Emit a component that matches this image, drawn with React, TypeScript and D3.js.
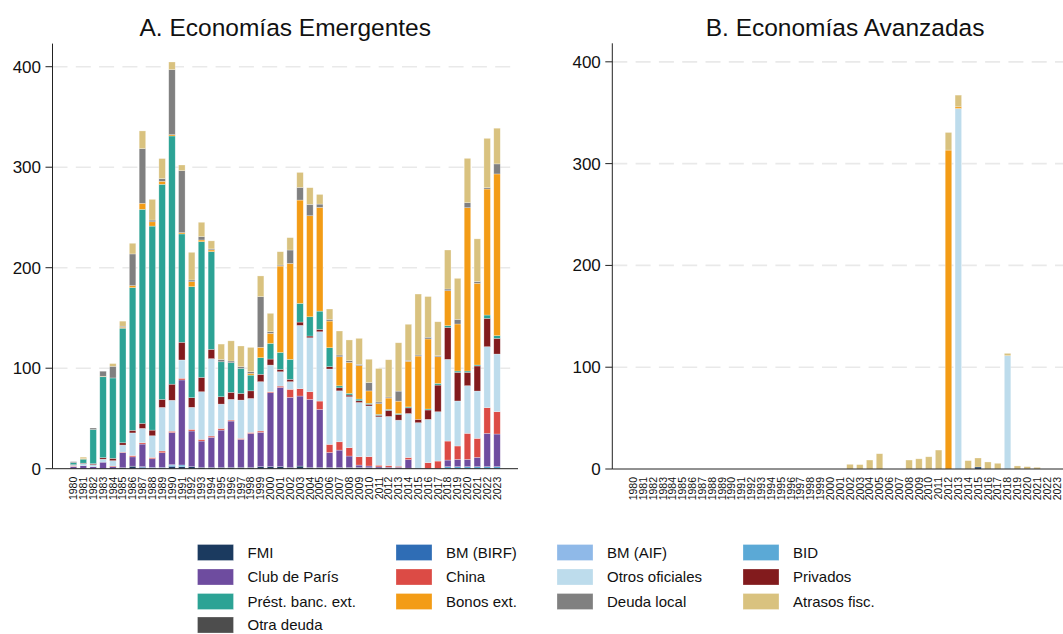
import React from "react";
import * as d3 from "d3";

// Years on the horizontal axis
const years: number[] = d3.range(1980, 2024);
const yTicks = [0, 100, 200, 300, 400];

// ---- Panel A: Economías Emergentes (one value per year, 1980–2023) ----
const emFMI = [0, 0, 0, 0, 0, 1, 2.5, 1, 0.5, 0.5, 2, 2, 2, 1.3, 1.3, 1.3, 1.3, 1.3, 1.3, 2, 2, 2, 1.3, 2.6, 1.3, 1.3, 1.3, 1.3, 1.3, 1.3, 1, 0.5, 0.5, 0.5, 0.5, 0, 0, 0, 0, 0, 0, 0, 0, 0];
const emBIRF = [0, 0, 0, 0, 0, 0, 0, 1, 0.8, 0.8, 1, 0, 0, 0, 0, 0, 0, 0, 0, 0, 0, 0, 0, 0, 0, 0, 0, 0, 0, 0, 0, 0, 0, 0, 0, 0, 0, 0, 0, 0, 0, 0, 0, 0];
const emAIF = [0, 0, 0, 0, 0, 0, 0, 0, 0, 0, 0, 0, 0, 0, 0, 0, 0, 0, 0, 0, 0, 0, 0, 0, 0, 0, 0, 0, 0, 0, 0, 0, 0, 0, 0, 0, 0, 0, 0, 0, 0, 0, 0, 0];
const emBID = [0, 0, 0, 0, 0, 0, 0, 0, 0, 0, 1, 1.7, 0, 0, 0, 0, 0, 0, 0, 0, 0, 0, 0, 0, 0, 0, 0, 0, 0, 0, 0, 0, 0, 0, 0, 0, 0, 0, 2, 2, 2, 2, 2, 2];
const emClubParis = [2, 3, 2, 6.5, 2, 15, 9.3, 22.5, 8.6, 14.6, 32, 84.6, 35.5, 26.2, 29.9, 37.1, 46.1, 27.9, 33.8, 34.2, 73.6, 78.9, 69.7, 69.7, 67.7, 57.7, 14.9, 17.2, 11.3, 2.3, 1.7, 1.3, 1, 1, 8.6, 0, 0, 0, 6.6, 7.3, 7.3, 9.3, 33.2, 32.5];
const emChina = [0.5, 0, 0, 0, 0.7, 0.5, 1.3, 1.3, 1.3, 1.7, 1.3, 1.7, 1.7, 1.7, 1.3, 1.7, 1, 1, 1, 1.3, 1, 1.3, 8, 7.3, 7.6, 8.3, 8, 8.3, 8.3, 8.3, 9.3, 1.7, 1.7, 1, 2, 0, 6, 7.6, 18.9, 13.3, 25.9, 18.9, 25.5, 22.2];
const emOtrosOf = [1, 2, 2, 3, 5.3, 7, 22.5, 14.3, 21.6, 43.4, 30.8, 18.2, 21.9, 47.4, 77, 24.2, 20.6, 38.1, 33.8, 49.1, 26.5, 14.3, 7.6, 63, 53.7, 69, 75, 50.7, 50.7, 54, 50.4, 48.1, 48.8, 45.8, 43.8, 45.8, 43.1, 49.1, 81.3, 44.8, 47.4, 47.1, 60.7, 57.4];
const emPrivados = [0.5, 0.5, 1, 1.5, 2.3, 2.3, 2.6, 5, 5.6, 8, 16, 17.6, 9.6, 14.3, 9.3, 7.3, 7, 6.6, 7.6, 7.3, 6, 2.3, 2.3, 3.3, 1.7, 2.3, 2.3, 3, 1.7, 1.7, 1.7, 1.5, 6, 5.6, 5.6, 3.3, 9.3, 26.5, 31.8, 28.5, 13.3, 24.9, 28.2, 15.6];
const emBancos = [2, 4, 34, 80.5, 80, 114, 142, 213, 203, 214, 247, 107.8, 110.4, 135, 97.2, 34.8, 29.5, 24.9, 15.6, 16.6, 15.6, 16.9, 19.9, 18.6, 19.2, 18.2, 18.9, 2, 1.7, 1.7, 1, 1, 1, 1, 1, 0, 1, 1.7, 1.7, 1.3, 1.3, 1, 3.3, 2.7];
const emBonos = [0, 0.5, 0, 0.5, 0, 1, 2, 6, 4.3, 3, 1.3, 1.3, 5, 1.7, 1.7, 0, 0, 0, 1.7, 10.3, 10, 85.9, 95.5, 102.8, 100.5, 103.2, 26.5, 28.9, 30.8, 33.2, 12.3, 10.6, 11.3, 12.3, 45.4, 63, 69.7, 26.5, 34.8, 46.8, 162.5, 81.3, 125.4, 160.9];
const emDeudaLocal = [1, 0, 1.5, 5, 11.6, 1, 31.5, 54.4, 1.7, 2.6, 64.7, 61.7, 1.7, 3.3, 1, 2.3, 1.7, 1.7, 1.7, 50.4, 1.7, 1, 13.3, 12.6, 11.3, 3.3, 1.7, 1.7, 1.7, 1.3, 8.3, 1.7, 1, 10, 1, 1, 1.7, 1, 1.7, 4.6, 5, 1.7, 1.3, 10];
const emAtrasos = [0, 1.5, 0, 0, 2.7, 5, 10.6, 17.6, 20.6, 20, 7.6, 5.6, 27.5, 14.3, 8, 15.3, 20, 20.6, 24.2, 20.6, 18.2, 13.3, 12.3, 14.9, 16.6, 9.6, 10.3, 23.9, 20.6, 25.9, 23.2, 33.3, 37.1, 48.1, 35.8, 60.7, 40.5, 33.8, 38.8, 40.8, 44.1, 42.5, 49.1, 35.5];
const emOtra = [0, 0, 0, 0, 0, 0, 0, 0, 0, 0, 0, 0, 0, 0, 0, 0, 0, 0, 0, 0, 0, 0, 0, 0, 0, 0, 0, 0, 0, 0, 0, 0, 0, 0, 0, 0, 0, 0, 0, 0, 0, 0, 0, 0];

// ---- Panel B: Economías Avanzadas ----
const avFMI = [0, 0, 0, 0, 0, 0, 0, 0, 0, 0, 0, 0, 0, 0, 0, 0, 0, 0, 0, 0, 0, 0, 0, 0, 0, 0, 0, 0, 0, 0, 0, 0, 0, 0, 0, 2, 0, 0, 0, 0, 0, 0, 0, 0];
const avOtrosOf = [0, 0, 0, 0, 0, 0, 0, 0, 0, 0, 0, 0, 0, 0, 0, 0, 0, 0, 0, 0, 0, 0, 0, 0, 0, 0, 0, 0, 0, 0, 0, 0, 0, 354.2, 0, 0, 0, 0, 111.3, 0, 0, 0, 0, 0];
const avBonos = [0, 0, 0, 0, 0, 0, 0, 0, 0, 0, 0, 0, 0, 0, 0, 0, 0, 0, 0, 0, 0, 0, 0, 0, 0, 0, 0, 0, 0, 0, 0, 0, 313.3, 1.6, 0, 0, 0, 0, 0, 0, 0, 0, 0, 0];
const avAtrasos = [0, 0, 0, 0, 0, 0, 0, 0, 0, 0, 0, 0, 0, 0, 0, 0, 0, 0, 0, 0, 0, 0, 4.6, 4.3, 8.8, 15, 0, 0, 8.8, 10, 12, 18.6, 17.3, 11.5, 8.2, 8.8, 6.9, 5.6, 2.3, 3, 2.3, 1.6, 0, 0];
const zeros = years.map(() => 0);

// Series in stacking order (bottom to top) with legend labels and colours
const seriesKeys = ["fmi", "birf", "aif", "bid", "club", "china", "otros", "priv", "banc", "bonos", "local", "atrasos", "otra"];
const seriesLabels = ["FMI", "BM (BIRF)", "BM (AIF)", "BID", "Club de París", "China", "Otros oficiales", "Privados", "Prést. banc. ext.", "Bonos ext.", "Deuda local", "Atrasos fisc.", "Otra deuda"];
const seriesColors = ["#1b3a5f", "#2f6db5", "#8fb9e8", "#5ba9d6", "#6e4c9f", "#dc4b45", "#bddcec", "#821b1d", "#2ca395", "#f39c16", "#808080", "#d9c27f", "#4d4d4d"];

const emSeries = [emFMI, emBIRF, emAIF, emBID, emClubParis, emChina, emOtrosOf, emPrivados, emBancos, emBonos, emDeudaLocal, emAtrasos, emOtra];
const avSeries = [avFMI, zeros, zeros, zeros, zeros, zeros, avOtrosOf, zeros, zeros, avBonos, zeros, avAtrasos, zeros];

type Row = { year: number; [k: string]: number };
function toRows(series: number[][]): Row[] {
  return years.map((yr, i) => {
    const r: Row = { year: yr };
    seriesKeys.forEach((k, j) => (r[k] = series[j][i]));
    return r;
  });
}

const FONT = "'Liberation Sans', Arial, Helvetica, sans-serif";
const WIDTH = 1063;
const HEIGHT = 634;

type PanelProps = {
  title: string;
  rows: Row[];
  left: number;
  right: number;
  yMax: number;
  yBottom: number;
  yTop: number;
};

function Panel({ title, rows, left, right, yMax, yBottom, yTop }: PanelProps) {
  const x = d3.scalePoint<number>().domain(years).range([left, right]).padding(2.13);
  const y = d3.scaleLinear().domain([0, yMax]).range([yBottom, yTop]);
  const stack = d3.stack<Row>().keys(seriesKeys);
  const layers = stack(rows);
  const barW = 6.5;
  return (
    <g>
      <text x={(left + right) / 2} y={36} textAnchor="middle" fontFamily={FONT} fontSize={24.5} fill="#111">
        {title}
      </text>
      {yTicks
        .filter((t) => t > 0)
        .map((t) => (
          <line key={"g" + t} x1={left} x2={right} y1={y(t)} y2={y(t)} stroke="#e9e9e9" strokeWidth={1.6} strokeDasharray="15 8.3" />
        ))}
      {layers.map((layer, li) => (
        <g key={seriesKeys[li]} fill={seriesColors[li]}>
          {layer.map((d, i) => {
            const h = y(d[0]) - y(d[1]);
            if (h <= 0) return null;
            return (
              <rect
                key={i}
                x={(x(rows[i].year) as number) - barW / 2}
                y={y(d[1])}
                width={barW}
                height={h}
                stroke="#ffffff"
                strokeOpacity={0.45}
                strokeWidth={0.6}
              />
            );
          })}
        </g>
      ))}
      <line x1={left} x2={left} y1={yTop} y2={yBottom} stroke="#222" strokeWidth={1} />
      <line x1={left} x2={right} y1={yBottom} y2={yBottom} stroke="#222" strokeWidth={1} />
      {yTicks.map((t) => (
        <g key={"t" + t}>
          <line x1={left - 7} x2={left} y1={y(t)} y2={y(t)} stroke="#222" strokeWidth={1} />
          <text x={left - 11.5} y={y(t)} dy="0.35em" textAnchor="end" fontFamily={FONT} fontSize={17} fill="#111">
            {t}
          </text>
        </g>
      ))}
      {years.map((yr) => (
        <text
          key={"x" + yr}
          transform={`translate(${(x(yr) as number) + 3.7},${yBottom + 8}) rotate(-90)`}
          textAnchor="end"
          fontFamily={FONT}
          fontSize={10.5}
          fill="#111"
        >
          {yr}
        </text>
      ))}
    </g>
  );
}

function Legend() {
  const colX = [197.5, 396, 557, 743];
  const rowY = [544.5, 569, 593.5, 617];
  return (
    <g>
      {seriesKeys.map((k, i) => {
        const cx = colX[i % 4];
        const ry = rowY[Math.floor(i / 4)];
        return (
          <g key={k}>
            <rect x={cx} y={ry} width={36} height={16} fill={seriesColors[i]} stroke="#ffffff" strokeOpacity={0.45} strokeWidth={0.6} />
            <text x={cx + 50} y={ry + 8} dy="0.34em" fontFamily={FONT} fontSize={15} fill="#111">
              {seriesLabels[i]}
            </text>
          </g>
        );
      })}
    </g>
  );
}

export default function App() {
  const emRows = toRows(emSeries);
  const avRows = toRows(avSeries);
  return (
    <svg
      width={WIDTH}
      height={HEIGHT}
      viewBox={`0 0 ${WIDTH} ${HEIGHT}`}
      style={{ position: "absolute", left: 0, top: 0, background: "#ffffff", display: "block" }}
    >
      <rect width={WIDTH} height={HEIGHT} fill="#ffffff" />
      <Panel title="A. Economías Emergentes" rows={emRows} left={52.5} right={518} yMax={423} yBottom={468.7} yTop={43.6} />
      <Panel title="B. Economías Avanzadas" rows={avRows} left={612.3} right={1077.8} yMax={418.2} yBottom={469} yTop={43.3} />
      <Legend />
    </svg>
  );
}
